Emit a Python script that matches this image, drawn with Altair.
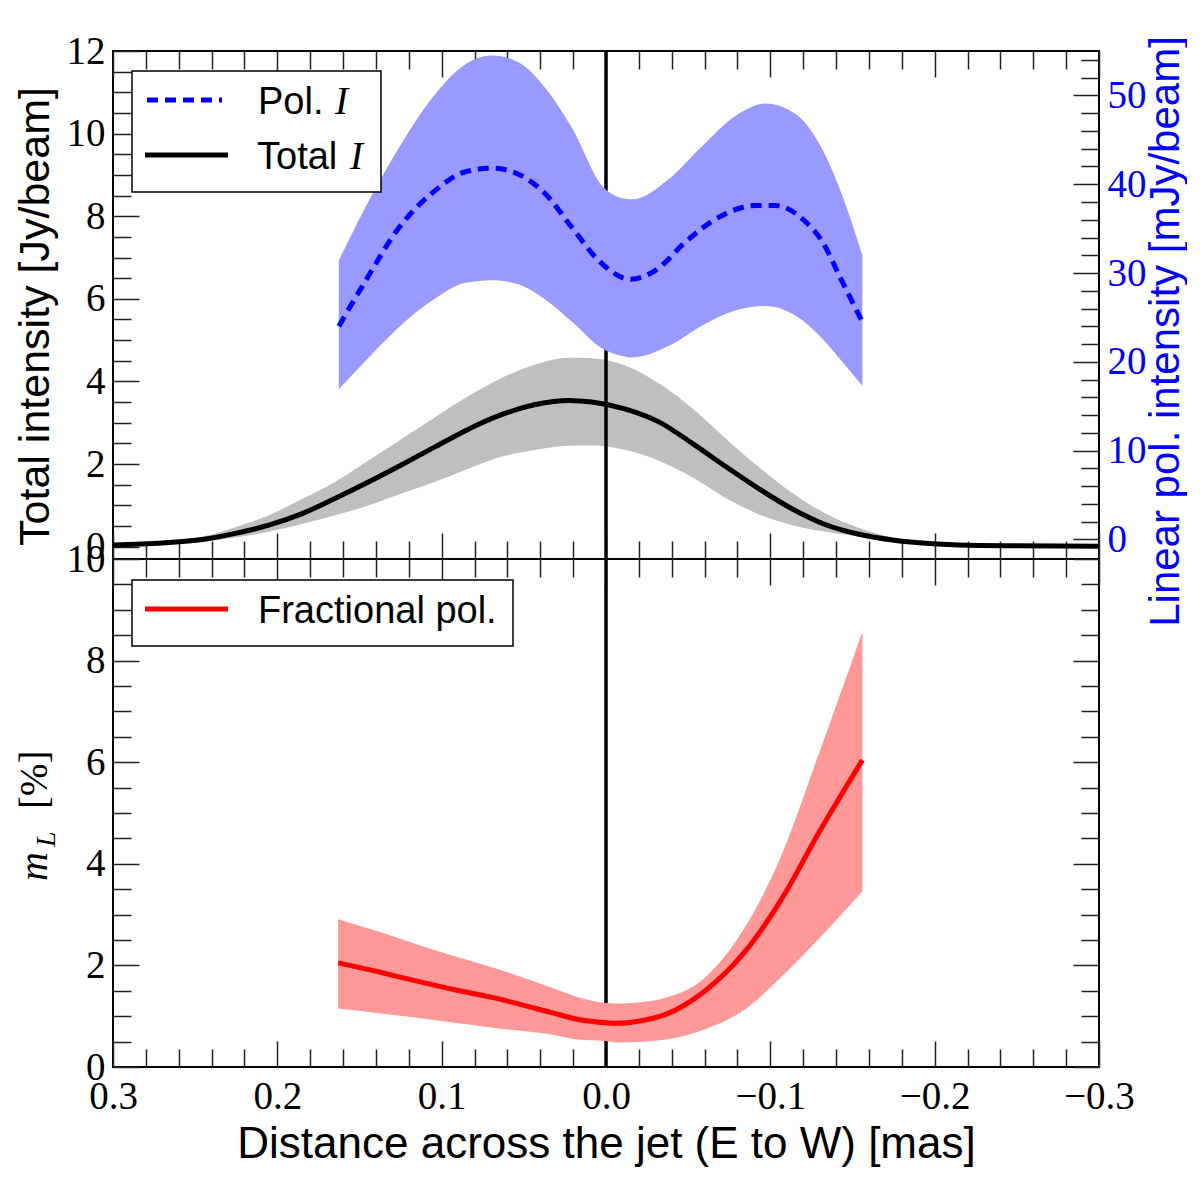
import altair as alt
import pandas as pd

# ---- profiles (distance across the jet in mas, E positive) ----
x_total = [0.30, 0.27, 0.2458, 0.2255, 0.2052, 0.1849, 0.1647, 0.1443, 0.124,
           0.1038, 0.0834, 0.0632, 0.0429, 0.0226, 0.0086, -0.0119, -0.0322,
           -0.0525, -0.0728, -0.0931, -0.1134, -0.1337, -0.154, -0.1743,
           -0.1945, -0.2149, -0.25, -0.30]
total_I = [0.04, 0.09, 0.17, 0.32, 0.52, 0.80, 1.17, 1.57, 1.99,
           2.42, 2.85, 3.20, 3.44, 3.54, 3.50, 3.33, 3.02,
           2.50, 1.94, 1.40, 0.91, 0.53, 0.30, 0.16,
           0.08, 0.04, 0.02, 0.01]
total_lo = [0.02, 0.05, 0.12, 0.22, 0.36, 0.55, 0.76, 1.00, 1.29,
            1.57, 1.89, 2.18, 2.34, 2.44, 2.45, 2.34, 2.08,
            1.68, 1.18, 0.78, 0.52, 0.36, 0.24, 0.12,
            0.06, 0.03, 0.01, 0.01]
total_hi = [0.06, 0.13, 0.24, 0.47, 0.76, 1.15, 1.57, 2.09, 2.62,
            3.14, 3.65, 4.09, 4.41, 4.57, 4.56, 4.38, 3.95,
            3.35, 2.62, 1.92, 1.30, 0.80, 0.45, 0.22,
            0.10, 0.05, 0.02, 0.01]

x_pol = [0.1626, 0.1464, 0.126, 0.1058, 0.0855, 0.0692, 0.053, 0.0368, 0.0206,
         0.0023, -0.007, -0.016, -0.0383, -0.0586, -0.0789, -0.0972, -0.1154,
         -0.1317, -0.1438, -0.156]
pol_lo = [16.9, 20.1, 23.9, 26.9, 28.9, 29.2, 28.7, 27.0, 24.5,
          21.5, 20.8, 20.5, 21.8, 24.1, 25.8, 26.3, 25.2,
          22.6, 20.0, 17.3]
pol_hi = [31.4, 37.4, 44.1, 49.7, 53.5, 54.5, 53.7, 50.8, 46.3,
          39.8, 38.6, 38.3, 40.6, 44.3, 47.7, 49.1, 47.9,
          43.9, 38.7, 32.0]

x_pol_line = [0.1626, 0.1464, 0.126, 0.1058, 0.0855, 0.0692, 0.053, 0.0368, 0.0206,
              0.0044, -0.015, -0.0302, -0.0484, -0.0688, -0.091, -0.1032, -0.1195,
              -0.1317, -0.1438, -0.156]
pol_I = [24.0, 29.1, 35.1, 39.0, 41.4, 41.8, 41.1, 38.9, 35.1,
         31.4, 29.3, 30.3, 33.5, 36.3, 37.6, 37.6, 36.1,
         33.5, 29.0, 24.5]

x_frac = [0.163, 0.138, 0.115, 0.092, 0.068, 0.033, 0.0175, 0.0, -0.006,
          -0.0245, -0.036, -0.06, -0.083, -0.106, -0.13, -0.156]
frac_pol = [2.05, 1.87, 1.69, 1.52, 1.36, 1.07, 0.94, 0.87, 0.86,
            0.93, 1.03, 1.49, 2.21, 3.26, 4.64, 6.04]
frac_lo = [1.15, 1.06, 0.97, 0.87, 0.77, 0.64, 0.54, 0.51, 0.48,
           0.50, 0.54, 0.74, 1.10, 1.75, 2.54, 3.46]
frac_hi = [2.91, 2.66, 2.41, 2.18, 1.95, 1.56, 1.38, 1.26, 1.25,
           1.29, 1.36, 1.75, 2.67, 4.11, 6.21, 8.57]

# ---- tick positions ----
x_major = [0.3, 0.2, 0.1, 0.0, -0.1, -0.2, -0.3]
x_minor = [round(0.3 - 0.02 * i, 2) for i in range(31) if i % 5]
yl_major = [0, 2, 4, 6, 8, 10, 12]
yl_minor = [i / 2 for i in range(25) if i % 4]
yr_major = [0, 10, 20, 30, 40, 50]
yr_minor = [v for v in range(2, 55, 2) if v % 10]
ym_major = [0, 2, 4, 6, 8, 10]
ym_minor = [i / 2 for i in range(21) if i % 4]

SANS = "Liberation Sans"
SERIF = "Liberation Serif"
BLUE = "#0000ff"
W, H = 986, 508

total_df = pd.DataFrame({"x": x_total, "mid": total_I, "lo": total_lo, "hi": total_hi})
pol_df = pd.DataFrame({"x": x_pol, "lo": pol_lo, "hi": pol_hi})
pol_line_df = pd.DataFrame({"x": x_pol_line, "mid": pol_I})
frac_df = pd.DataFrame({"x": x_frac, "mid": frac_pol, "lo": frac_lo, "hi": frac_hi})
one = pd.DataFrame({"k": [0]})

xs = alt.Scale(domain=[0.3, -0.3], nice=False, zero=False)
yl = alt.Scale(domain=[-0.3, 12], nice=False, zero=False)
yr = alt.Scale(domain=[-2.2, 55], nice=False, zero=False)
ym = alt.Scale(domain=[0, 10], nice=False, zero=False)


def tick_axis(orient, values, size):
    # matplotlib-style inward ticks: shift the axis inside by its tick length
    return alt.Axis(orient=orient, values=values, tickSize=size, offset=-size,
                    labels=False, domain=False, grid=False, title=None,
                    tickColor="#222222", tickWidth=1.5)


def label_axis(orient, values, **kw):
    return alt.Axis(orient=orient, values=values, ticks=False, tickSize=0,
                    domain=False, grid=False, labelFont=SERIF, labelFontSize=39,
                    labelPadding=8, **kw)


def title_kw(text, color, size, x, y):
    return dict(title=text, titleFont=SANS, titleFontSize=size, titleFontWeight="normal",
                titleColor=color, titleAngle=270, titleAlign="center",
                titleBaseline="alphabetic", titleX=x, titleY=y)


def dummy(yscale, yaxis, xaxis=None):
    x = alt.X(datum=0, type="quantitative", scale=xs, axis=xaxis)
    return alt.Chart(one).mark_point(opacity=0).encode(
        x=x, y=alt.Y(datum=1, type="quantitative", scale=yscale, axis=yaxis))


def text(s, x, y, font=SANS, size=38, style="normal", color="black", angle=0):
    return alt.Chart(one).mark_text(
        text=s, font=font, fontSize=size, fontStyle=style, color=color, angle=angle,
        align="left", baseline="alphabetic").encode(x=alt.value(x), y=alt.value(y))


def box(x1, x2, y1, y2):
    return alt.Chart(one).mark_rect(fill="white", stroke="black", strokeWidth=1.5).encode(
        x=alt.value(x1), x2=alt.value(x2), y=alt.value(y1), y2=alt.value(y2))


def sample(x1, x2, y, color, dash=None):
    kw = dict(color=color, strokeWidth=5)
    if dash:
        kw["strokeDash"] = dash
    return alt.Chart(one).mark_rule(**kw).encode(
        x=alt.value(x1), x2=alt.value(x2), y=alt.value(y))


# ---- top panel: total and polarised intensity ----
gray_band = alt.Chart(total_df).mark_area(color="#bfbfbf", interpolate="monotone").encode(
    x=alt.X("x:Q", scale=xs, axis=tick_axis("bottom", x_major, 26)),
    y=alt.Y("lo:Q", scale=yl, axis=label_axis(
        "left", yl_major, format="d", labelColor="black",
        **title_kw("Total intensity [Jy/beam]", "black", 43, -65, 265))),
    y2="hi:Q",
)
zero_top = alt.Chart(one).mark_rule(color="black", strokeWidth=3.5).encode(
    x=alt.X(datum=0, type="quantitative", scale=xs, axis=tick_axis("top", x_major, 26)))
black_line = alt.Chart(total_df).mark_line(color="black", strokeWidth=5, interpolate="monotone").encode(
    x=alt.X("x:Q", scale=xs, axis=tick_axis("bottom", x_minor, 18)),
    y=alt.Y("mid:Q", scale=yl, axis=tick_axis("left", yl_major, 26)),
)
blue_band = alt.Chart(pol_df).mark_area(color="#9999ff", interpolate="monotone").encode(
    x=alt.X("x:Q", scale=xs, axis=tick_axis("top", x_minor, 18)),
    y=alt.Y("lo:Q", scale=yr, axis=label_axis(
        "right", yr_major, format="d", labelColor=BLUE,
        **title_kw("Linear pol. intensity [mJy/beam]", BLUE, 42, 79, 280))),
    y2="hi:Q",
)
blue_line = alt.Chart(pol_line_df).mark_line(
    color=BLUE, strokeWidth=5, strokeDash=[11, 7], interpolate="monotone").encode(
    x=alt.X("x:Q", scale=xs, axis=None),
    y=alt.Y("mid:Q", scale=yr, axis=tick_axis("right", yr_major, 26)),
)

top = alt.layer(
    gray_band, zero_top, black_line, blue_band, blue_line,
    dummy(yl, tick_axis("left", yl_minor, 18)),
    dummy(yr, tick_axis("right", yr_minor, 18)),
    box(19, 268, 20, 141),
    sample(34, 109, 49, BLUE, [11, 7]),
    sample(32, 115, 104, "black"),
    text("Pol.", 145, 63),
    text("I", 222, 63, font=SERIF, size=39, style="italic"),
    text("Total", 144, 118),
    text("I", 237, 118, font=SERIF, size=39, style="italic"),
).resolve_scale(y="independent").resolve_axis(x="independent", y="independent").properties(
    width=W, height=H)

# ---- bottom panel: fractional polarisation ----
zero_bot = alt.Chart(one).mark_rule(color="black", strokeWidth=3.5).encode(
    x=alt.X(datum=0, type="quantitative", scale=xs, axis=tick_axis("top", x_major, 26)))
red_band = alt.Chart(frac_df).mark_area(color="#ff9999", interpolate="monotone").encode(
    x=alt.X("x:Q", scale=xs, axis=alt.Axis(
        orient="bottom", values=x_major, format=".1f", ticks=False, tickSize=0,
        domain=False, grid=False, labelFont=SERIF, labelFontSize=39, labelColor="black",
        labelPadding=10, labelFlush=False,
        title="Distance across the jet (E to W) [mas]", titleFont=SANS, titleFontSize=44,
        titleFontWeight="normal", titleColor="black", titleBaseline="alphabetic",
        titleAlign="center", titleX=W / 2, titleY=90)),
    y=alt.Y("lo:Q", scale=ym, axis=label_axis("left", ym_major, format="d",
                                               labelColor="black", title=None)),
    y2="hi:Q",
)
red_line = alt.Chart(frac_df).mark_line(color="#ff0000", strokeWidth=5, interpolate="monotone").encode(
    x=alt.X("x:Q", scale=xs, axis=tick_axis("bottom", x_major, 26)),
    y=alt.Y("mid:Q", scale=ym, axis=tick_axis("left", ym_major, 26)),
)

bottom = alt.layer(
    zero_bot, red_band, red_line,
    dummy(ym, tick_axis("left", ym_minor, 18), tick_axis("bottom", x_minor, 18)),
    dummy(ym, tick_axis("right", ym_major, 26), tick_axis("top", x_minor, 18)),
    dummy(ym, tick_axis("right", ym_minor, 18)),
    box(19, 400, 21, 87),
    sample(32, 115, 50, "#ff0000"),
    text("Fractional pol.", 145, 64),
    text("m", -66, 322, font=SERIF, size=40, style="italic", angle=270),
    text("L", -58, 288, font=SERIF, size=28, style="italic", angle=270),
    text("[%]", -66, 250, font=SERIF, size=39, angle=270),
).resolve_axis(x="independent", y="independent").properties(width=W, height=H)

chart = alt.vconcat(top, bottom, spacing=0, bounds="flush").configure_view(
    stroke="black", strokeWidth=2).properties(
    padding={"left": 4, "top": 23, "right": 0, "bottom": 4}, background="white")

chart.save("out.html", embed_options={"renderer": "svg", "actions": False})
